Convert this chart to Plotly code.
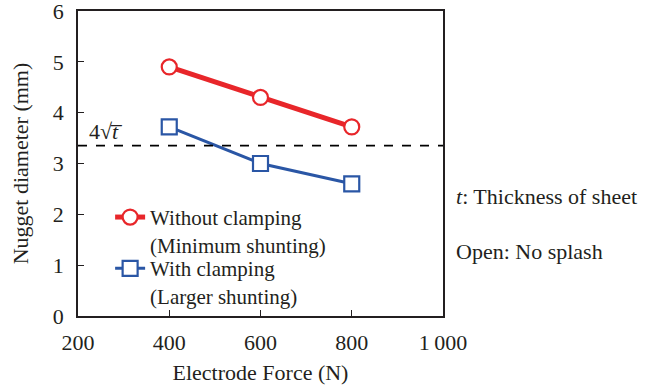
import plotly.graph_objects as go

force = [400, 600, 800]
without_clamping = [4.9, 4.3, 3.72]
with_clamping = [3.72, 3.0, 2.6]
threshold = 3.35
x_ticks = [200, 400, 600, 800, 1000]
x_tick_labels = ["200", "400", "600", "800", "1\u2009000"]
y_ticks = [0, 1, 2, 3, 4, 5, 6]

FONT = "Liberation Serif, Times New Roman, serif"
AX = "#231f20"
RED = "#e8262a"
BLUE = "#2a56a5"

fig = go.Figure()
fig.add_trace(go.Scatter(
    x=force, y=without_clamping, mode="lines+markers",
    name="Without clamping<br>(Minimum shunting)",
    line=dict(color=RED, width=5),
    marker=dict(symbol="circle", size=15, color="white",
                line=dict(color=RED, width=2.2)),
    legend="legend",
))
fig.add_trace(go.Scatter(
    x=force, y=with_clamping, mode="lines+markers",
    name="With clamping<br>(Larger shunting)",
    line=dict(color=BLUE, width=3),
    marker=dict(symbol="square", size=15, color="white",
                line=dict(color=BLUE, width=2.2)),
    legend="legend2",
))

fig.add_shape(type="line", xref="x domain", yref="y", x0=0, x1=1,
              y0=threshold, y1=threshold,
              line=dict(color="black", width=1.8, dash="dash"))

fig.add_annotation(x=0.025, xref="x domain", y=threshold, yref="y",
                   text="4√<i>t\u0305</i>",
                   showarrow=False, xanchor="left", yanchor="bottom",
                   yshift=0, font=dict(family=FONT, size=22, color=AX))

fig.add_annotation(x=1.03, xref="x domain", y=0.393, yref="y domain",
                   text="<i>t</i>: Thickness of sheet", showarrow=False,
                   xanchor="left", yanchor="middle",
                   font=dict(family=FONT, size=22, color=AX))
fig.add_annotation(x=1.03, xref="x domain", y=0.21, yref="y domain",
                   text="Open: No splash", showarrow=False,
                   xanchor="left", yanchor="middle",
                   font=dict(family=FONT, size=22, color=AX))

leg = dict(xanchor="left", yanchor="middle", bgcolor="rgba(0,0,0,0)",
           borderwidth=0, font=dict(family=FONT, size=21, color=AX),
           valign="top", itemwidth=30)
fig.update_layout(
    width=659, height=385,
    margin=dict(l=78, r=216, t=11, b=69, autoexpand=False),
    paper_bgcolor="white", plot_bgcolor="white",
    font=dict(family=FONT, size=22, color=AX),
    showlegend=True,
    legend=dict(x=0.088, y=0.279, **leg),
    legend2=dict(x=0.088, y=0.111, **leg),
)
fig.update_xaxes(range=[200, 1000], tickvals=x_ticks, ticktext=x_tick_labels,
                 ticks="inside", ticklen=6, tickcolor=AX, tickwidth=1.2,
                 showline=True, linecolor=AX, linewidth=1.5, mirror=True,
                 showgrid=False, zeroline=False, automargin=False,
                 ticklabelstandoff=6, ticklabeloverflow="allow",
                 title=dict(text="Electrode Force (N)", standoff=11,
                            font=dict(family=FONT, size=22, color=AX)),
                 tickfont=dict(family=FONT, size=22, color=AX))
fig.update_yaxes(range=[0, 6], tickvals=y_ticks,
                 ticks="inside", ticklen=6, tickcolor=AX, tickwidth=1.2,
                 showline=True, linecolor=AX, linewidth=1.5, mirror=True,
                 showgrid=False, zeroline=False, automargin=False,
                 ticklabelstandoff=8, ticklabeloverflow="allow",
                 title=dict(text="Nugget diameter (mm)", standoff=18,
                            font=dict(family=FONT, size=22, color=AX)),
                 tickfont=dict(family=FONT, size=22, color=AX))

fig.write_html("out.html")
